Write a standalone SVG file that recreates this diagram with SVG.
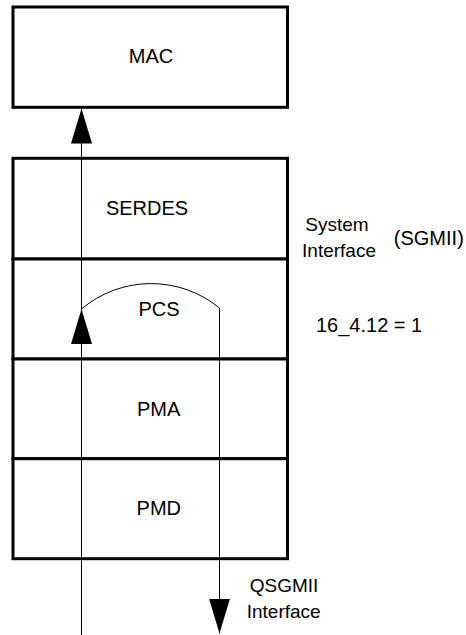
<svg xmlns="http://www.w3.org/2000/svg" width="466" height="635" viewBox="0 0 466 635">
<style>
.box{fill:#fff;stroke:#000;stroke-width:3}
.t{font-family:"Liberation Sans",Arial,sans-serif;font-size:20px;fill:#000}
.s{font-size:19px}
.c{text-anchor:middle}
.ln{fill:none;stroke:#000;stroke-width:1}
</style>
<defs>
<marker id="ah" markerUnits="userSpaceOnUse" markerWidth="36" markerHeight="21" refX="35" refY="10.5" orient="auto" viewBox="0 0 36 21">
<path d="M0,0 L35,10.5 L0,21 Z" fill="#000"/>
</marker>
</defs>
<rect x="0" y="0" width="466" height="635" fill="#fff"/>
<g id="mac"><rect class="box" x="13" y="7" width="274.5" height="100.3"/><text class="t c" x="151" y="63">MAC</text></g>
<g id="serdes"><rect class="box" x="13" y="158.3" width="274.5" height="100.7"/><text class="t c" x="147" y="215">SERDES</text></g>
<g id="pcs"><rect class="box" x="13" y="259" width="274.5" height="100"/><text class="t c" x="159" y="316">PCS</text></g>
<g id="pma"><rect class="box" x="13" y="359" width="274.5" height="99.7"/><text class="t c" x="158.7" y="416">PMA</text></g>
<g id="pmd"><rect class="box" x="13" y="458.7" width="274.5" height="100"/><text class="t c" x="158.8" y="515">PMD</text></g>
<g id="connectors">
<line class="ln" x1="81.5" y1="635" x2="81.5" y2="108.5" marker-end="url(#ah)"/>
<line class="ln" x1="81.5" y1="380" x2="81.5" y2="309" marker-end="url(#ah)"/>
<path class="ln" d="M81.5,309 A108,108 0 0 1 219.5,308 L219.5,633.5" marker-end="url(#ah)"/>
</g>
<g id="labels">
<text class="t s c" x="337" y="231">System</text>
<text class="t s c" x="339" y="257">Interface</text>
<text class="t c" x="428.8" y="245">(SGMII)</text>
<text class="t" x="316" y="332">16_4.12 = 1</text>
<text class="t s c" x="284" y="592">QSGMII</text>
<text class="t s c" x="283.7" y="618">Interface</text>
</g>
</svg>
